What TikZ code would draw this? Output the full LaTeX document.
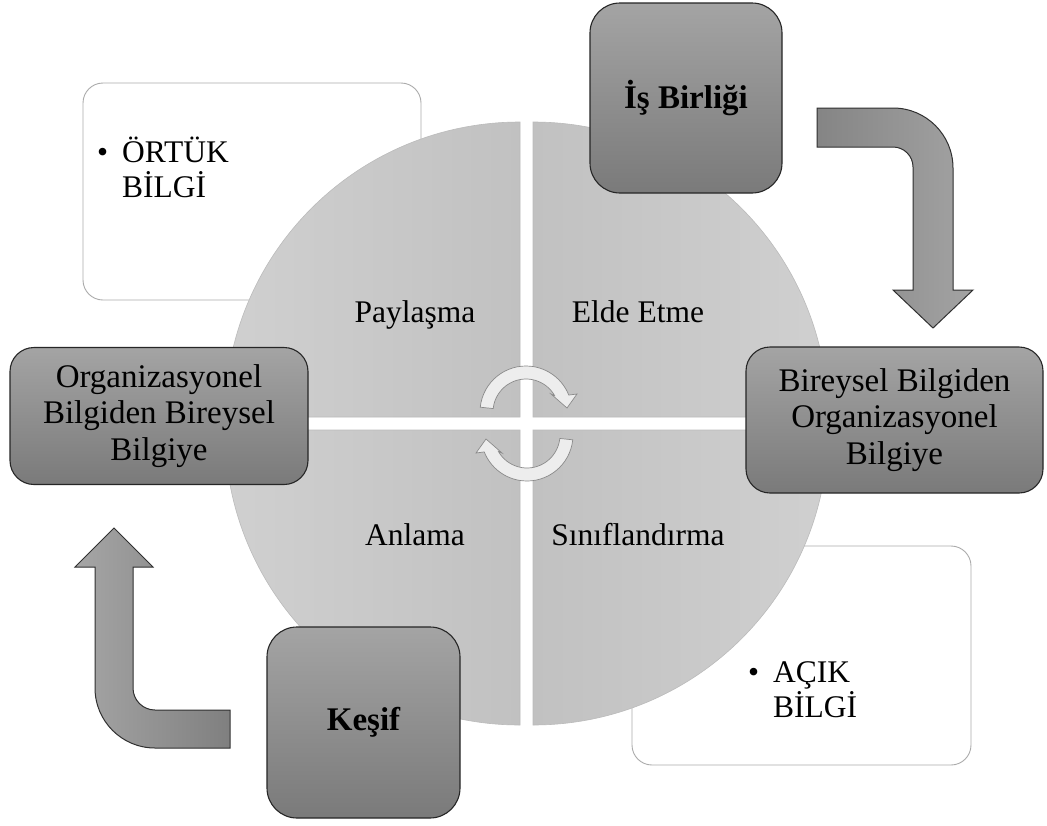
\documentclass[tikz,border=0pt]{standalone}
\usepackage{fontspec}
\setmainfont{Liberation Serif}
\definecolor{boxtop}{HTML}{A4A4A4}
\definecolor{boxbot}{HTML}{7A7A7A}
\definecolor{boxline}{HTML}{262626}
\definecolor{noteline}{HTML}{ABABAB}
\definecolor{quadout}{HTML}{D0D0D0}
\definecolor{quadin}{HTML}{C1C1C1}
\definecolor{quadline}{HTML}{BBBBBB}
\definecolor{arrline}{HTML}{303030}
\definecolor{cycline}{HTML}{8A8A8A}
\definecolor{cycfill}{HTML}{EDEDED}
\begin{document}
\begin{tikzpicture}[x=1pt,y=-1pt,
  graybox/.style={draw=boxline, line width=1.1pt, top color=boxtop, bottom color=boxbot,
    align=center, inner sep=0pt, font=\fontsize{33}{36.5}\selectfont},
  notebox/.style={draw=noteline, line width=0.9pt, fill=white, rounded corners=20pt, inner sep=0pt},
  notetext/.style={anchor=base west, inner sep=0pt, font=\fontsize{31.5}{33}\selectfont},
  quad/.style={draw=quadline, line width=0.6pt},
  qlabel/.style={anchor=base, inner sep=0pt, font=\fontsize{31.5}{36}\selectfont},
  bendarrow/.style={draw=arrline, line width=1pt},
  cycarrow/.style={draw=cycline, line width=0.7pt, fill=cycfill}]

% canvas
\fill[white] (0,0) rectangle (1047,825);
\path[use as bounding box] (0,0) rectangle (1047,825);

% white note boxes behind the circle
\node[notebox, minimum width=338pt, minimum height=217pt] (ortukbox) at (252,191.5) {};
\node[notebox, minimum width=339pt, minimum height=219pt] (acikbox) at (801.5,655.5) {};
\node[notetext] (ortuktext) at (97,162)
  {\begin{tabular}[t]{@{}l@{\hspace{14pt}}l@{}}\textbullet & ÖRTÜK\\ & BİLGİ\end{tabular}};
\node[notetext] (aciktext) at (748,682)
  {\begin{tabular}[t]{@{}l@{\hspace{14pt}}l@{}}\textbullet & AÇIK\\ & BİLGİ\end{tabular}};

% four quadrants of the circle
\path[quad, left color=quadout, right color=quadin]
  (520,417) -- ++(-295,0) arc[start angle=180, end angle=270, radius=295] -- cycle;
\path[quad, left color=quadin, right color=quadout]
  (533,417) -- ++(0,-295) arc[start angle=270, end angle=360, radius=295] -- cycle;
\path[quad, left color=quadin, right color=quadout]
  (533,430) -- ++(295,0) arc[start angle=0, end angle=90, radius=295] -- cycle;
\path[quad, left color=quadout, right color=quadin]
  (520,430) -- ++(0,295) arc[start angle=90, end angle=180, radius=295] -- cycle;

\node[qlabel] (paylasma) at (415,322) {Paylaşma};
\node[qlabel] (eldeetme) at (638,322) {Elde Etme};
\node[qlabel] (anlama) at (415,545) {Anlama};
\node[qlabel] (siniflandirma) at (638,545) {Sınıflandırma};

% circular arrows in the middle
\begin{scope}[shift={(526,412)}]
  \path[cycarrow] (186:46) arc[start angle=186, end angle=338.4, radius=46]
    -- (51,-18) -- (41,-4) -- (25,-18) -- (330:33)
    arc[start angle=330, end angle=186, radius=33] -- cycle;
\end{scope}
\begin{scope}[shift={(527,435)}, rotate=180]
  \path[cycarrow] (186:46) arc[start angle=186, end angle=338.4, radius=46]
    -- (51,-18) -- (41,-4) -- (25,-18) -- (330:33)
    arc[start angle=330, end angle=186, radius=33] -- cycle;
\end{scope}

% bent block arrows
\path[bendarrow, left color=black!48, right color=black!36]
  (817,108) -- (893,108) arc[start angle=270, end angle=360, radius=60]
  -- (953,290) -- (973,290) -- (933,328) -- (893,290) -- (913,290)
  -- (913,167) arc[start angle=0, end angle=-90, radius=20]
  -- (817,147) -- cycle;
\path[bendarrow, left color=black!35, right color=black!50]
  (114,528) -- (153,567) -- (133,567) -- (133,688)
  arc[start angle=180, end angle=90, radius=22]
  -- (230,710) -- (230,748) -- (155,748)
  arc[start angle=90, end angle=180, radius=60]
  -- (95,567) -- (75,567) -- cycle;

% gray stage boxes
\node[graybox, rounded corners=30pt, minimum width=192pt, minimum height=190pt]
  (isbirligi) at (686,98) {\bfseries İş Birliği};
\node[graybox, rounded corners=30pt, minimum width=193pt, minimum height=191pt]
  (kesif) at (363.5,722.5) {\bfseries Keşif};
\node[graybox, rounded corners=24pt, minimum width=298pt, minimum height=137pt]
  (orgbir) at (159,416) {Organizasyonel\\Bilgiden Bireysel\\Bilgiye};
\node[graybox, rounded corners=24pt, minimum width=297pt, minimum height=146pt]
  (birorg) at (894.5,420) {Bireysel Bilgiden\\Organizasyonel\\Bilgiye};
\end{tikzpicture}
\end{document}
